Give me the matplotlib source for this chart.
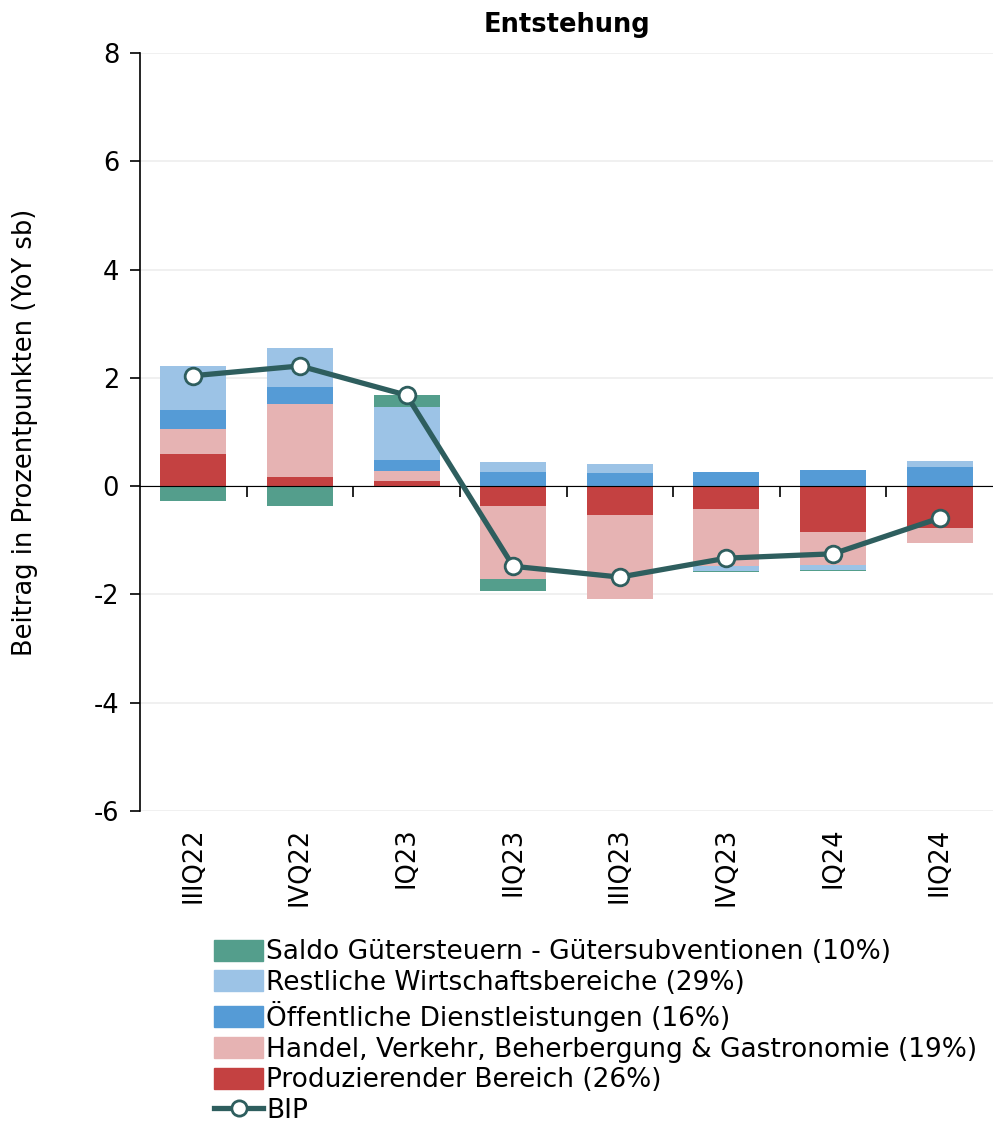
import numpy as np
import matplotlib
matplotlib.use("Agg")
import matplotlib.pyplot as plt
from matplotlib.patches import Patch
from matplotlib.lines import Line2D

plt.rcParams['font.family'] = ['DejaVu Sans']

# Daten (Beitraege in Prozentpunkten, YoY sb)
quartale = ["IIIQ22", "IVQ22", "IQ23", "IIQ23", "IIIQ23", "IVQ23", "IQ24", "IIQ24"]
produzierend = [0.60, 0.16, 0.09, -0.37, -0.53, -0.42, -0.84, -0.77]
handel = [0.46, 1.36, 0.19, -1.35, -1.56, -1.05, -0.62, -0.28]
oeffentlich = [0.34, 0.31, 0.21, 0.26, 0.25, 0.26, 0.30, 0.36]
restlich = [0.82, 0.72, 0.98, 0.18, 0.16, -0.09, -0.08, 0.11]
saldo = [-0.28, -0.36, 0.21, -0.22, 0.00, -0.02, -0.03, 0.00]
bip = [2.04, 2.22, 1.68, -1.48, -1.68, -1.33, -1.25, -0.59]

serien = [
    ("Produzierender Bereich (26%)", produzierend, "#C44141"),
    ("Handel, Verkehr, Beherbergung & Gastronomie (19%)", handel, "#E6B3B3"),
    ("Öffentliche Dienstleistungen (16%)", oeffentlich, "#559BD6"),
    ("Restliche Wirtschaftsbereiche (29%)", restlich, "#9CC3E6"),
    ("Saldo Gütersteuern - Gütersubventionen (10%)", saldo, "#549E8C"),
]
bip_farbe = "#2E5E5E"

fig = plt.figure(figsize=(9.93, 11.29), dpi=100)
ax = fig.add_axes([0.141, 0.2817, 0.859, 0.6713])

x = np.arange(len(quartale))
pos_base = np.zeros(len(x))
neg_base = np.zeros(len(x))
for name, vals, col in serien:
    v = np.array(vals)
    base = np.where(v >= 0, pos_base, neg_base)
    ax.bar(x, v, bottom=base, width=0.62, color=col, edgecolor='none', zorder=2)
    pos_base += np.where(v >= 0, v, 0)
    neg_base += np.where(v < 0, v, 0)

ax.plot(x, bip, color=bip_farbe, lw=3.8, marker='o', ms=12, mfc='white',
        mec=bip_farbe, mew=2, zorder=4)

ax.set_xlim(-0.5, len(x) - 0.5)
ax.set_ylim(-6, 8)
ax.set_yticks(range(-6, 9, 2))
ax.set_yticklabels([str(t) for t in range(-6, 9, 2)], fontsize=18.5)
ax.grid(axis='y', color='#EEEEEE', lw=1.2, zorder=0)
ax.set_axisbelow(True)

for s in ['top', 'right']:
    ax.spines[s].set_visible(False)
ax.spines['bottom'].set_position(('data', 0))
ax.spines['bottom'].set_zorder(3)
ax.spines['left'].set_linewidth(1.2)
ax.tick_params(axis='y', direction='out', length=7, width=1.2, pad=8)
ax.set_xticks(np.arange(0.5, len(x) - 0.5, 1))
ax.tick_params(axis='x', direction='out', length=8, width=1.2, labelbottom=False)

sec = ax.secondary_xaxis('bottom')
sec.set_xticks(x)
sec.set_xticklabels(quartale, rotation=90, fontsize=18.5)
sec.tick_params(length=0, pad=12)
sec.spines['bottom'].set_visible(False)

ax.set_ylabel("Beitrag in Prozentpunkten (YoY sb)", fontsize=18.5, labelpad=40)
ax.set_title("Entstehung", fontsize=18.5, fontweight='bold', pad=15)

handles = [Patch(color=col, label=name) for name, vals, col in serien[::-1]]
handles.append(Line2D([0], [0], color=bip_farbe, lw=3.8, marker='o', ms=11,
                      mfc='white', mec=bip_farbe, mew=2, label="BIP"))
fig.legend(handles=handles, loc='lower left', bbox_to_anchor=(0.205, -0.005),
           frameon=False, fontsize=19, handlelength=1.85, handleheight=0.85,
           handletextpad=0.12, labelspacing=0.18, borderaxespad=0)

fig.savefig("out.png", dpi=100)
